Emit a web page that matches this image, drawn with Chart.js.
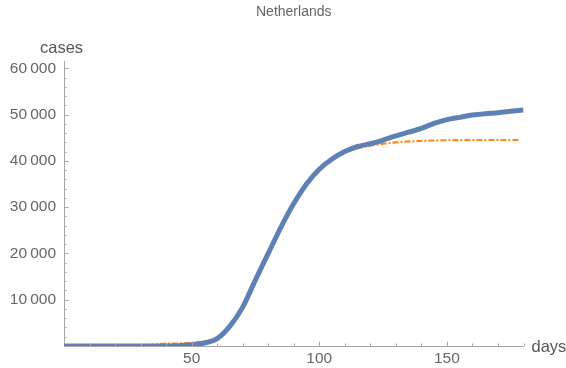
<!DOCTYPE html>
<html lang="en">
<head>
  <meta charset="UTF-8">
  <title>Netherlands</title>
  <style>
    html, body { margin: 0; padding: 0; background: #fff; }
    #wrap { width: 566px; height: 368px; }
  </style>
</head>
<body>
  <div id="wrap"><canvas id="casesChart" width="566" height="368"></canvas></div>

  <script src="https://cdn.jsdelivr.net/npm/chart.js"></script>
  <script>
    // reported cumulative cases
    const caseDays   = [0, 35, 40, 45, 50, 55, 60, 65, 70, 75, 80, 85, 90, 95, 100, 105, 110, 115, 120, 125, 130, 135, 140, 145, 150, 155, 160, 165, 170, 175, 180];
    const caseValues = [0, 0, 10, 60, 250, 650, 1600, 4300, 8400, 14300, 20000, 25700, 30800, 35000, 38200, 40400, 42000, 43100, 43700, 44500, 45400, 46200, 47000, 48100, 48900, 49400, 49900, 50200, 50400, 50700, 51000];

    // fitted curve (dash-dot)
    const fitDays   = [0, 30, 35, 40, 45, 50, 55, 60, 65, 70, 75, 80, 85, 90, 95, 100, 105, 110, 115, 120, 125, 130, 140, 150, 160, 170, 178];
    const fitValues = [0, 0, 300, 500, 550, 700, 1000, 1800, 4400, 8300, 14200, 20000, 25700, 30800, 35000, 38200, 40400, 41800, 42700, 43300, 43700, 44000, 44300, 44450, 44500, 44500, 44500];

    // axis ticks
    const xTicks = [10, 20, 30, 40, 50, 60, 70, 80, 90, 100, 110, 120, 130, 140, 150, 160, 170, 180];
    const xLabelled = [50, 100, 150];
    const yLabelled = [10000, 20000, 30000, 40000, 50000, 60000];
    const yMinorStep = 2000;

    const fontFamily = '"Liberation Sans", Arial, sans-serif';
    const axisColor = '#a6a6a6';
    const labelColor = '#666';

    const toPoints = (xs, ys) => xs.map((x, i) => ({ x: x, y: ys[i] }));
    const fmt = v => String(v).replace(/\B(?=(\d{3})+(?!\d))/g, '\u2009');

    // inward tick marks + corner axis labels, Mathematica style
    const axisDecor = {
      id: 'axisDecor',
      afterDatasetsDraw(chart) {
        const ctx = chart.ctx;
        const xs = chart.scales.x, ys = chart.scales.y;
        const area = chart.chartArea;
        ctx.save();
        ctx.strokeStyle = axisColor;
        ctx.lineWidth = 1;
        ctx.beginPath();
        xs.ticks.forEach(t => {
          const px = Math.round(xs.getPixelForValue(t.value)) + 0.5;
          const len = xLabelled.includes(t.value) ? 4.5 : 2.5;
          ctx.moveTo(px, area.bottom);
          ctx.lineTo(px, area.bottom - len);
        });
        ys.ticks.forEach(t => {
          const py = Math.round(ys.getPixelForValue(t.value)) + 0.5;
          const len = yLabelled.includes(t.value) ? 4.5 : 2.5;
          ctx.moveTo(area.left, py);
          ctx.lineTo(area.left + len, py);
        });
        ctx.stroke();

        ctx.fillStyle = '#555';
        ctx.font = '16.5px ' + fontFamily;
        ctx.textBaseline = 'alphabetic';
        ctx.textAlign = 'left';
        ctx.fillText('cases', 40, 53);
        ctx.fillText('days', 531.5, 352);
        ctx.restore();
      }
    };

    new Chart(document.getElementById('casesChart'), {
      type: 'line',
      data: {
        datasets: [
          {
            label: 'data',
            data: toPoints(caseDays, caseValues),
            borderColor: '#5E81B5',
            borderWidth: 5,
            pointRadius: 0,
            cubicInterpolationMode: 'monotone',
            order: 1
          },
          {
            label: 'fit',
            data: toPoints(fitDays, fitValues),
            borderColor: '#FF8A10',
            borderWidth: 2.2,
            borderDash: [6, 2, 2, 2],
            pointRadius: 0,
            cubicInterpolationMode: 'monotone',
            order: 2
          }
        ]
      },
      options: {
        responsive: false,
        devicePixelRatio: 1,
        animation: false,
        layout: { padding: { left: 0, right: 42.5, top: 0, bottom: 0 } },
        plugins: {
          legend: { display: false },
          tooltip: { enabled: false },
          title: {
            display: true,
            text: 'Netherlands',
            fullSize: false,
            color: labelColor,
            font: { family: fontFamily, size: 14, weight: 'normal' },
            padding: { top: 4, bottom: 41 }
          }
        },
        scales: {
          x: {
            type: 'linear',
            min: 0,
            max: 180,
            afterFit: s => { s.height = 22; },
            afterBuildTicks: s => { s.ticks = xTicks.map(v => ({ value: v })); },
            border: { color: axisColor, width: 1 },
            grid: { drawOnChartArea: false, drawTicks: false },
            ticks: {
              autoSkip: false,
              maxRotation: 0,
              padding: 3,
              color: labelColor,
              font: { family: fontFamily, size: 15.5 },
              callback: v => xLabelled.includes(v) ? String(v) : ''
            }
          },
          y: {
            type: 'linear',
            min: 0,
            max: 61400,
            afterFit: s => { s.width = 64; },
            afterBuildTicks: s => {
              const t = [];
              for (let v = yMinorStep; v <= yLabelled[yLabelled.length - 1]; v += yMinorStep) t.push({ value: v });
              s.ticks = t;
            },
            border: { color: axisColor, width: 1 },
            grid: { drawOnChartArea: false, drawTicks: false },
            ticks: {
              autoSkip: false,
              padding: 8,
              color: labelColor,
              font: { family: fontFamily, size: 15.5 },
              callback: v => yLabelled.includes(v) ? fmt(v) : ''
            }
          }
        }
      },
      plugins: [axisDecor]
    });
  </script>
</body>
</html>
